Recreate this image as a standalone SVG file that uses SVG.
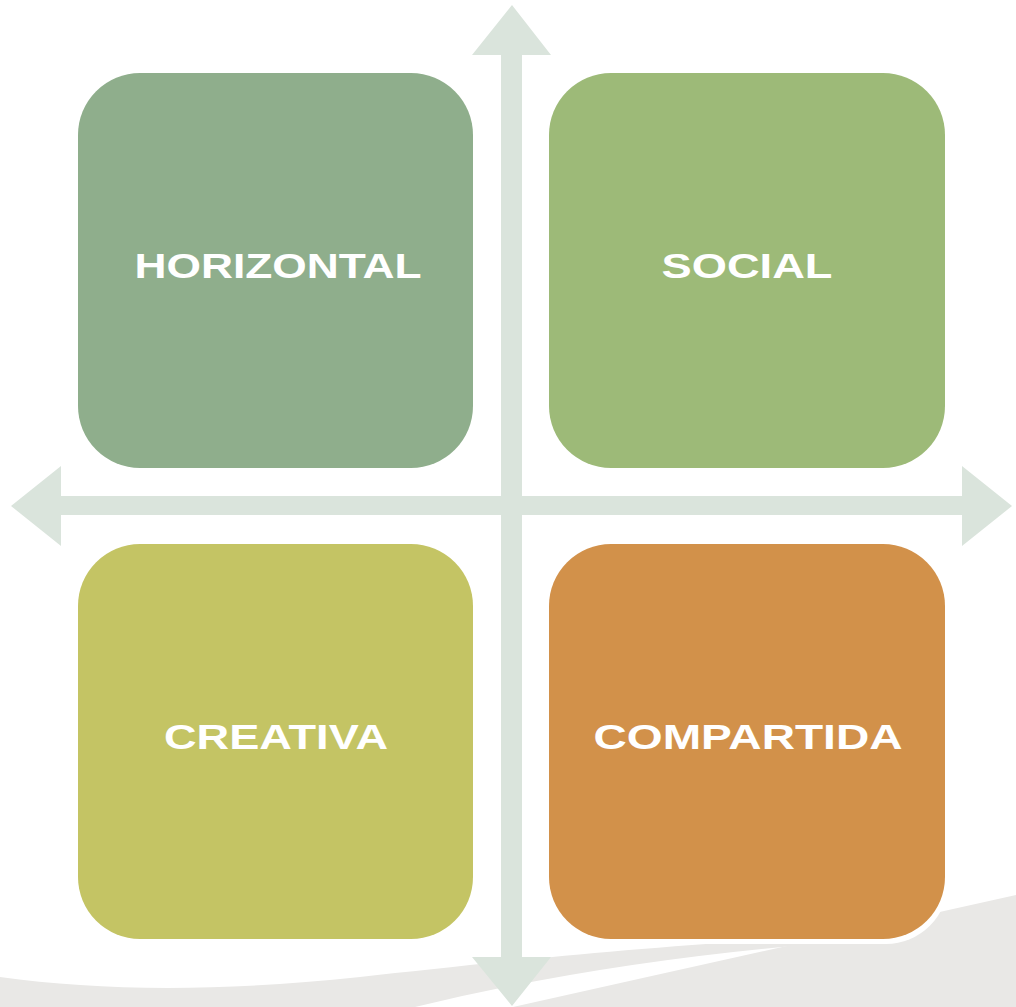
<svg xmlns="http://www.w3.org/2000/svg" width="1016" height="1007" viewBox="0 0 1016 1007">
<style>
.bg{fill:#e9e8e6}
.arrow{fill:#dae4dc}
.shadow{fill:#ffffff}
.lbl{font-family:"Liberation Sans",Arial,sans-serif;font-weight:bold;font-size:35px;fill:#ffffff;text-anchor:middle}
</style>
<rect width="1016" height="1007" fill="#ffffff"/>
<g id="swoosh">
<path class="bg" d="M0 977 C100 991 220 992 360 977 C480 964 620 948 830 936 L815 944 Q600 962 415 1007 L0 1007 Z"/>
<path class="bg" d="M513 1007 Q760 952 1016 895 L1016 1007 Z"/>
</g>
<g id="connectors">
<polygon class="arrow" points="512,5 551,55 522,55 522,957 551,957 512,1006 472,957 501,957 501,55 472,55"/>
<polygon class="arrow" points="11,506 61,466 61,496 962,496 962,466 1012,506 962,546 962,515 61,515 61,546"/>
</g>
<g id="node-horizontal">
<rect class="shadow" x="81" y="78" width="395" height="395" rx="62"/>
<rect x="78" y="73" width="395" height="395" rx="62" fill="#8fae8c"/>
<text class="lbl" x="278" y="278" textLength="287" lengthAdjust="spacingAndGlyphs">HORIZONTAL</text>
</g>
<g id="node-social">
<rect class="shadow" x="552" y="78" width="396" height="395" rx="62"/>
<rect x="549" y="73" width="396" height="395" rx="62" fill="#9dba78"/>
<text class="lbl" x="747" y="278" textLength="171" lengthAdjust="spacingAndGlyphs">SOCIAL</text>
</g>
<g id="node-creativa">
<rect class="shadow" x="81" y="549" width="395" height="395" rx="62"/>
<rect x="78" y="544" width="395" height="395" rx="62" fill="#c4c464"/>
<text class="lbl" x="276" y="749" textLength="224" lengthAdjust="spacingAndGlyphs">CREATIVA</text>
</g>
<g id="node-compartida">
<rect class="shadow" x="552" y="549" width="396" height="395" rx="62"/>
<rect x="549" y="544" width="396" height="395" rx="62" fill="#d2914a"/>
<text class="lbl" x="748" y="749" textLength="309" lengthAdjust="spacingAndGlyphs">COMPARTIDA</text>
</g>
</svg>
